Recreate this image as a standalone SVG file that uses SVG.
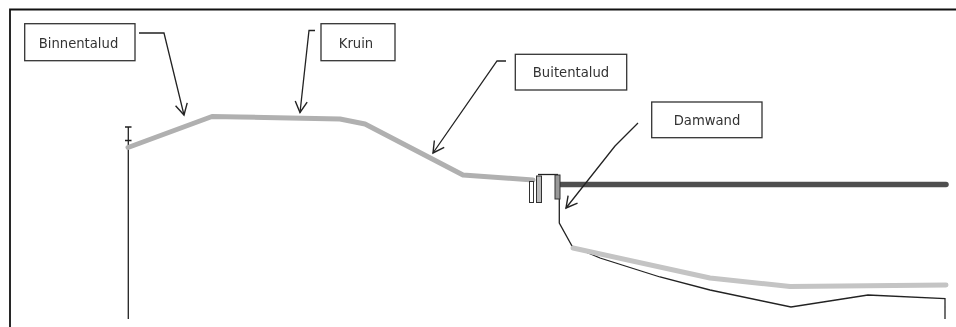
<svg xmlns="http://www.w3.org/2000/svg" width="956" height="327" viewBox="0 0 956 327">
<defs>
<marker id="arr" viewBox="0 0 14 14" refX="12" refY="7" markerWidth="14" markerHeight="14" markerUnits="userSpaceOnUse" orient="auto"><path d="M1 1 L12 7 L1 13" fill="none" stroke="#222" stroke-width="1.4"/></marker>
<filter id="soft" x="-2%" y="-2%" width="104%" height="104%"><feGaussianBlur stdDeviation="0.35"/></filter>
</defs>
<style>
.box{fill:#fff;stroke:#333;stroke-width:1.3}
.lab{font-family:"DejaVu Sans",sans-serif;font-size:13.2px;fill:#333;text-anchor:middle}
.ln{fill:none;stroke:#222;stroke-width:1.3}
.ground{fill:none;stroke:#b0b0b0;stroke-width:5;stroke-linejoin:round;stroke-linecap:round}
</style>
<rect width="956" height="327" fill="#fff"/>
<path d="M10 327V9.500H956" fill="none" stroke="#111" stroke-width="1.800"/>
<g filter="url(#soft)">
<g id="profile">
<path d="M128.300 319V127M125 127H131.500M125 140.500H131.500" class="ln"/>
<path d="M128 147.500L212 116.500L240 117L340 119L365 124L463 175L533 180" class="ground"/>
<path d="M558 184.500H946" fill="none" stroke="#505050" stroke-width="5.500" stroke-linecap="round"/>
<path d="M559.300 198V223L572 246L600 258L660 277L710 290L791 307L868 295L945 298.500V319" class="ln"/>
<path d="M573 248L710 278L790 286.500L946 285" fill="none" stroke="#c4c4c4" stroke-width="5" stroke-linecap="round" stroke-linejoin="round"/>
</g>
<g id="damwand-detail">
<rect x="529.500" y="181.500" width="4" height="21" fill="#fff" stroke="#333"/>
<rect x="536.500" y="176" width="5" height="26.500" fill="#bbb" stroke="#333"/>
<path d="M538 174.500H558" class="ln"/>
<rect x="555" y="175" width="5" height="24" fill="#999" stroke="#333"/>
</g>
<g id="connectors">
<path d="M139 33H164L184 115" class="ln" marker-end="url(#arr)"/>
<path d="M315 30.500H309L300 112.500" class="ln" marker-end="url(#arr)"/>
<path d="M506 61H497L433 153" class="ln" marker-end="url(#arr)"/>
<path d="M638 123L615 146L566 208" class="ln" marker-end="url(#arr)"/>
</g>
<g id="binnentalud"><rect class="box" x="24.700" y="23.700" width="110.300" height="37"/><text class="lab" x="78.500" y="47.500">Binnentalud</text></g>
<g id="kruin"><rect class="box" x="321" y="23.700" width="74" height="37"/><text class="lab" x="356" y="47.500">Kruin</text></g>
<g id="buitentalud"><rect class="box" x="515.300" y="54.300" width="111.400" height="35.700"/><text class="lab" x="571" y="77">Buitentalud</text></g>
<g id="damwand"><rect class="box" x="651.700" y="102" width="110.300" height="35.700"/><text class="lab" x="707" y="125">Damwand</text></g>
</g>
</svg>
